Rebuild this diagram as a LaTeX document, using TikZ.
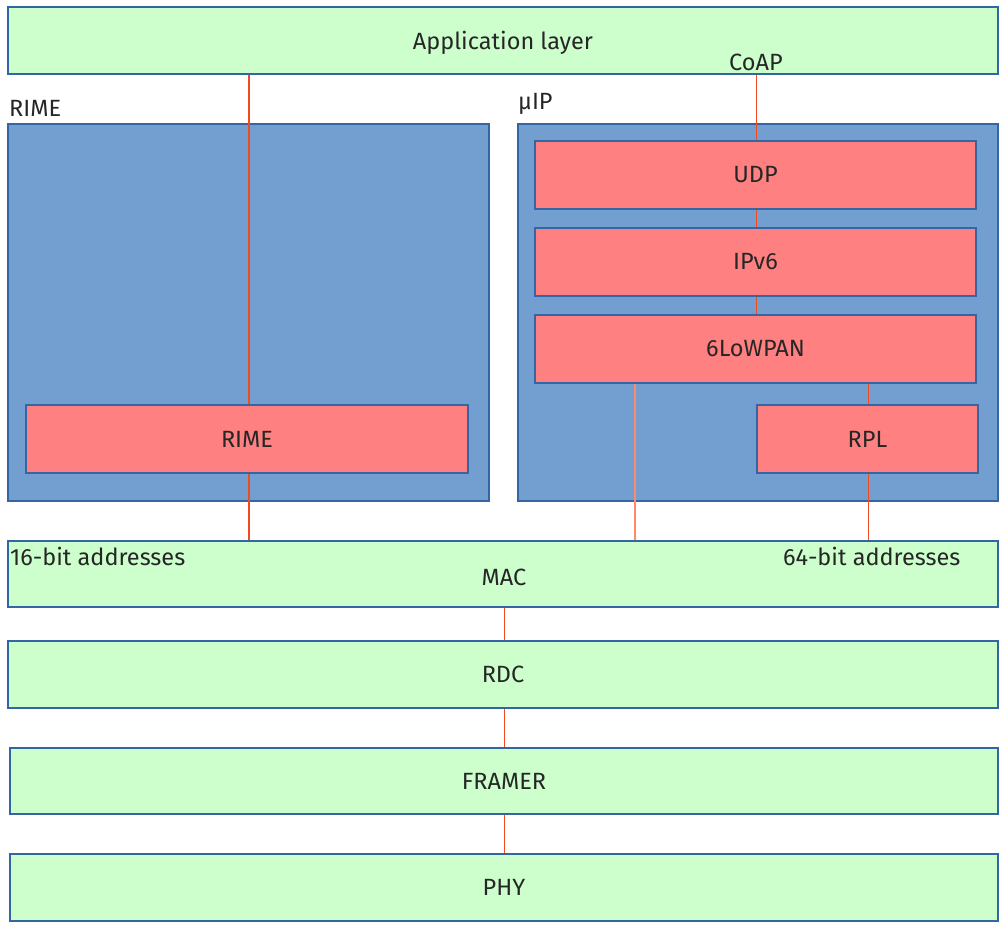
\documentclass[tikz,border=0pt]{standalone}
\usepackage{fontspec}
\setmainfont{Fira Sans}
\definecolor{lgreen}{HTML}{CCFFCC}
\definecolor{bordblue}{HTML}{3465A4}
\definecolor{boxblue}{HTML}{729FCF}
\definecolor{boxred}{HTML}{FF8080}
\definecolor{linkred}{HTML}{F04A1E}
\definecolor{linkpale}{HTML}{FF8A6A}
\tikzset{
  base/.style={draw=bordblue, line width=1.2pt, inner sep=0pt, font=\fontsize{23.5}{28}\selectfont, text=black!85},
  layer/.style={base, fill=lgreen},
  group/.style={base, fill=boxblue},
  proto/.style={base, fill=boxred},
  lbl/.style={inner sep=0pt, font=\fontsize{23.5}{28}\selectfont, text=black!85},
  link/.style={draw=linkred, line width=1.6pt},
  palelink/.style={draw=linkpale, line width=2.2pt},
}
\begin{document}
\begin{tikzpicture}[x=1pt,y=-1pt]
\useasboundingbox (0,0) rectangle (1006,926);
% layers
\node[layer, minimum width=990pt, minimum height=67pt] (app) at (503,40.5) {};
\node[lbl] (applbl) at (503,43) {Application layer};
\node[lbl] (coap) at (756,62) {CoAP};
% groups
\node[lbl, anchor=west] (rimelbl) at (9,108) {RIME};
\node[group, minimum width=481pt, minimum height=377pt] (rimegrp) at (248.5,312.5) {};
\node[lbl, anchor=west] (uiplbl) at (518,104) {μIP};
\node[group, minimum width=480pt, minimum height=377pt] (uipgrp) at (758,312.5) {};
% protocols
\node[proto, minimum width=441pt, minimum height=68pt] (udp) at (755.5,175) {UDP};
\node[proto, minimum width=441pt, minimum height=68pt] (ipv6) at (755.5,262) {IPv6};
\node[proto, minimum width=441pt, minimum height=68pt] (lowpan) at (755.5,349) {6LoWPAN};
\node[proto, minimum width=221pt, minimum height=68pt] (rpl) at (867.5,439) {RPL};
\node[proto, minimum width=442pt, minimum height=68pt] (rime) at (247,439) {RIME};
% lower layers
\node[layer, minimum width=990pt, minimum height=66pt] (mac) at (503,574) {};
\node[lbl] (maclbl) at (504,577) {MAC};
\node[lbl, anchor=west] (a16) at (10,556) {16-bit addresses};
\node[lbl, anchor=west] (a64) at (783,556) {64-bit addresses};
\node[layer, minimum width=990pt, minimum height=67pt] (rdc) at (503,674.5) {RDC};
\node[layer, minimum width=988pt, minimum height=66pt] (framer) at (504,781) {FRAMER};
\node[layer, minimum width=988pt, minimum height=67pt] (phy) at (504,887.5) {PHY};
% connector anchor points
\path (rime.north) ++(2,0) coordinate (rimeN);
\path (rime.south) ++(2,0) coordinate (rimeS);
\path (udp.north) ++(1,0) coordinate (udpN);
\path (udp.south) ++(1,0) coordinate (udpS);
\path (ipv6.south) ++(1,0) coordinate (ipS);
\path (lowpan.south west) ++(100.5,0) coordinate (lpS);
\path (rpl.north) ++(1,0) coordinate (rplN);
\path (rpl.south) ++(1,0) coordinate (rplS);
\path (mac.south) ++(1.5,0) coordinate (macS);
\path (rdc.south) ++(1.5,0) coordinate (rdcS);
\path (framer.south) ++(0.5,0) coordinate (frS);
% links
\draw[link] (rimeN) -- (rimeN |- app.south);
\draw[link] (rimeS) -- (rimeS |- mac.north);
\draw[link] (udpN) -- (udpN |- app.south);
\draw[link] (udpS) -- (udpS |- ipv6.north);
\draw[link] (ipS) -- (ipS |- lowpan.north);
\draw[link] (rplN) -- (rplN |- lowpan.south);
\draw[link] (rplS) -- (rplS |- mac.north);
\draw[palelink] (lpS) -- (lpS |- mac.north);
\draw[link] (macS) -- (macS |- rdc.north);
\draw[link] (rdcS) -- (rdcS |- framer.north);
\draw[link] (frS) -- (frS |- phy.north);
\end{tikzpicture}
\end{document}
